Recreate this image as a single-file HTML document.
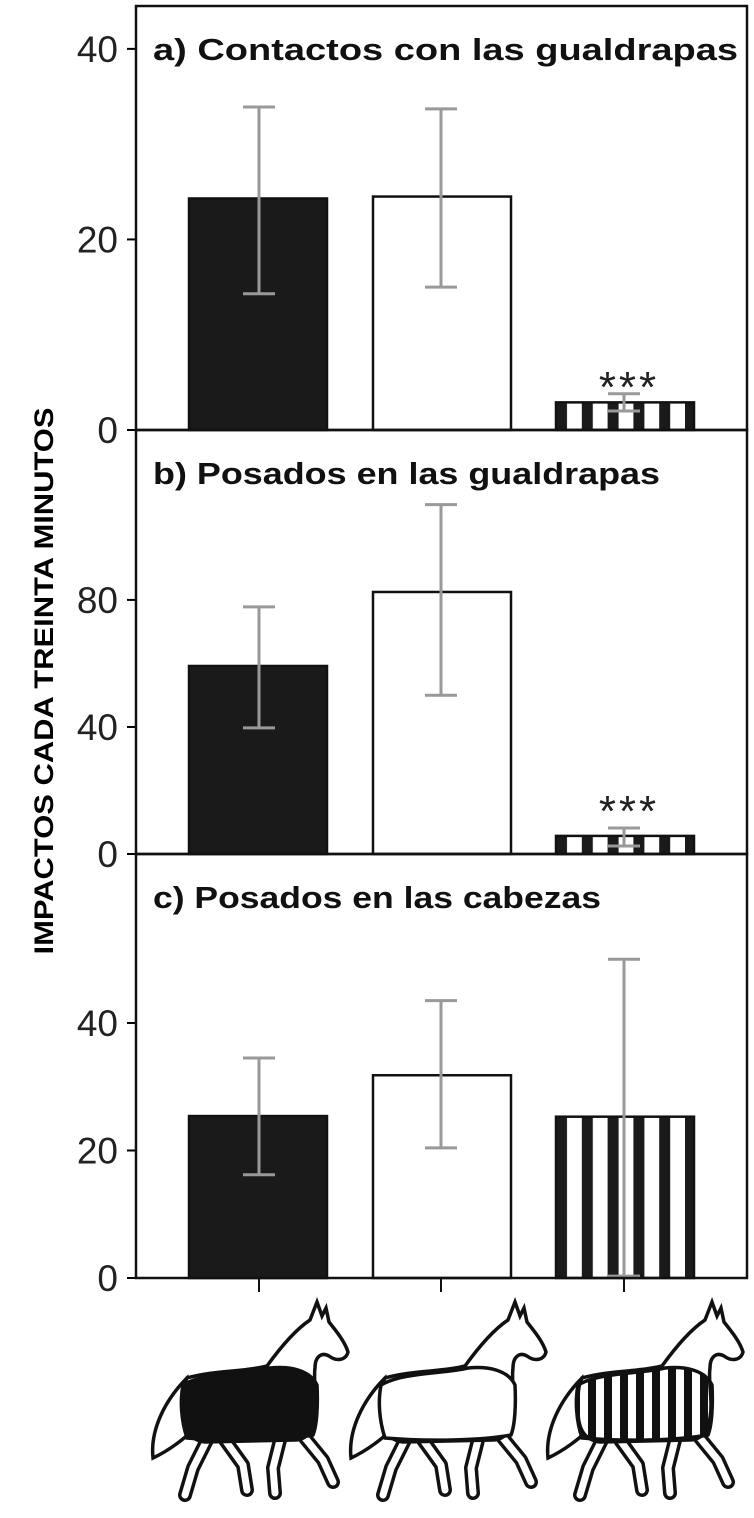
<!DOCTYPE html>
<html><head><meta charset="utf-8"><style>
html,body{margin:0;padding:0;background:#fff;}
svg{display:block;}
text{font-family:"Liberation Sans",sans-serif;}
</style></head><body>
<svg id="c" width="754" height="1518" viewBox="0 0 754 1518" xmlns="http://www.w3.org/2000/svg">
<defs>
<pattern id="stripes" patternUnits="userSpaceOnUse" x="556" y="0" width="25.8" height="10"><rect x="0" y="0" width="11" height="10" fill="#1a1a1a"/></pattern>
<pattern id="hstripes" patternUnits="userSpaceOnUse" x="0" y="0" width="16" height="10"><rect x="0" y="0" width="8" height="10" fill="#111"/></pattern>
</defs>
<g id="plots"></g>
<text x="0" y="0" transform="translate(53,681) rotate(-90)" text-anchor="middle" font-size="27" font-weight="bold" textLength="547" lengthAdjust="spacingAndGlyphs">IMPACTOS CADA TREINTA MINUTOS</text>
<g id="horses"></g>
</svg>
<script>
const categories = ["negra","blanca","rayada"];
const panelTitles = ["a) Contactos con las gualdrapas","b) Posados en las gualdrapas","c) Posados en las cabezas"];
const valuesA = [24.3, 24.5, 2.9];
const lowA = [14.3, 15.0, 2.0];
const highA = [33.9, 33.7, 3.8];
const valuesB = [59.2, 82.5, 5.7];
const lowB = [39.7, 50.0, 2.5];
const highB = [77.8, 110.0, 8.2];
const valuesC = [25.4, 31.8, 25.3];
const lowC = [16.2, 20.4, 0.3];
const highC = [34.5, 43.5, 50.0];
const ticksA = [0, 20, 40];
const ticksB = [0, 40, 80];
const ticksC = [0, 20, 40];
const maxA = 44.5, maxB = 133.5, maxC = 66.5;
const sigLabels = ["", "", "***"];

const NS = "http://www.w3.org/2000/svg";
const plots = document.getElementById('plots');
function mk(tag, attrs, parent){const e=document.createElementNS(NS,tag);for(const k in attrs)e.setAttribute(k,attrs[k]);(parent||plots).appendChild(e);return e;}
const L=136,R=747;
const panels=[
 {top:6,bot:430,vals:valuesA,lo:lowA,hi:highA,ticks:ticksA,max:maxA,sig:[false,false,true],tl:585,sigOff:14},
 {top:430,bot:854,vals:valuesB,lo:lowB,hi:highB,ticks:ticksB,max:maxB,sig:[false,false,true],tl:507,sigOff:24},
 {top:854,bot:1278,vals:valuesC,lo:lowC,hi:highC,ticks:ticksC,max:maxC,sig:[false,false,false],tl:448,sigOff:0}
];
const errX=[259,441,624];
const barX=[258,442,625];
const barW=140;
const fills=["#1a1a1a","#fff","url(#stripes)"];
panels.forEach((p,pi)=>{
  const y=v=>p.bot-(v/p.max)*(p.bot-p.top);
  const g=mk('g',{});
  
  
  p.ticks.forEach(t=>{
    const ln=mk('line',{x1:127,x2:L,y1:y(t),y2:y(t),stroke:'#000','stroke-width':2},g);
    
    
    const tx=mk('text',{x:118,y:y(t)+13,'text-anchor':'end','font-size':37,fill:'#222'},g);
    tx.textContent=t;
    
    
  });
  p.vals.forEach((v,i)=>{
    const cx=barX[i];
    const b=mk('rect',{x:cx-barW/2+1,y:y(v),width:barW-2,height:p.bot-y(v),fill:fills[i],stroke:'#111','stroke-width':2.5},g);
    
    
    const ex=errX[i];
    const e=mk('path',{d:`M${ex-16},${y(p.hi[i])}H${ex+16}M${ex},${y(p.hi[i])}V${y(p.lo[i])}M${ex-16},${y(p.lo[i])}H${ex+16}`,stroke:'#999','stroke-width':3,fill:'none'},g);
    
    
    if(p.sig[i]){
      const s=mk('text',{x:ex+5,y:y(p.hi[i])-p.sigOff+22,'text-anchor':'middle','font-size':44,fill:'#222','letter-spacing':'3'},g);
      s.textContent=sigLabels[i];
      
      
    }
  });
  const f=mk('rect',{x:L,y:p.top,width:R-L,height:p.bot-p.top,fill:'none',stroke:'#111','stroke-width':2.5},g);
  
  
  const t=mk('text',{x:153,y:p.top+54,'font-size':31,'font-weight':'bold',fill:'#111',textLength:p.tl,lengthAdjust:'spacingAndGlyphs'},g);
  t.textContent=panelTitles[pi];
  
  
});
errX.forEach(cx=>{
  const t=mk('line',{x1:cx,x2:cx,y1:1278,y2:1292,stroke:'#111','stroke-width':2});
  
  
});
// horses
const hg=document.getElementById('horses');
const offs=[145,343,540];
const blankets=["#111","#fff","url(#hstripes)"];
offs.forEach((ox,i)=>{
  const g=mk('g',{transform:`translate(${ox},1290)`},hg);
  
  
  const legs="M62,150 L48,178 L40,205 M80,150 L98,175 L102,200 M135,150 L128,178 L130,203 M160,148 L178,170 L188,192";
  mk('path',{d:legs,stroke:'#111','stroke-width':14,fill:'none','stroke-linecap':'round','stroke-linejoin':'round'},g);
  mk('path',{d:legs,stroke:'#fff','stroke-width':7,fill:'none','stroke-linecap':'round','stroke-linejoin':'round'},g);
  mk('path',{d:"M42,88 C20,110 5,140 8,168 C25,160 40,148 48,140 Z",fill:'#fff',stroke:'#111','stroke-width':3.5},g);
  mk('path',{d:"M42,88 C70,80 100,82 122,76 C135,58 150,40 165,30 L172,12 L177,26 L181,18 L184,32 C192,42 200,52 203,62 C201,70 192,72 184,66 C177,62 170,66 170,78 C168,92 173,110 170,128 C168,142 160,150 150,150 L60,152 C45,150 38,140 38,120 C38,105 38,95 42,88 Z",fill:'#fff',stroke:'#111','stroke-width':3.5},g);
  mk('path',{d:"M38,95 C60,82 100,84 125,78 C145,76 165,80 172,95 C173,115 172,135 168,145 C140,150 90,152 42,148 C36,130 35,110 38,95 Z",fill:blankets[i],stroke:'#111','stroke-width':3.5},g);
});
</script>
</body></html>
